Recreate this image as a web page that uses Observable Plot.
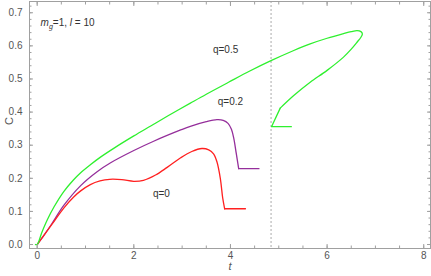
<!DOCTYPE html>
<html><head><meta charset="utf-8">
<script src="https://cdn.jsdelivr.net/npm/d3@7"></script>
<script src="https://cdn.jsdelivr.net/npm/@observablehq/plot@0.6"></script>
<style>body{margin:0;background:#fff} svg{display:block}</style>
</head><body><div id="chart"></div>
<script>
// q = 0.5 (green) — parametric path, drawn in data order
const tGreen = [-0.035,0,0.1,0.21,0.35,0.55,0.75,0.9,1.1,1.31,1.6,2.0,2.35,2.7,3.17,3.5,3.96,4.4,4.85,5.31,5.65,6.0,6.34,6.5,6.62,6.7,6.73,6.7,6.62,6.5,6.34,6.0,5.65,5.31,5.03,4.85,5.26];
const cGreen = [0,0,0.038,0.075,0.114,0.16,0.195,0.217,0.241,0.264,0.292,0.328,0.358,0.388,0.427,0.454,0.49,0.524,0.556,0.586,0.606,0.623,0.637,0.643,0.646,0.643,0.636,0.626,0.611,0.59,0.566,0.526,0.49,0.45,0.412,0.356,0.356];
// q = 0.2 (purple)
const tPurple = [0,0.15,0.3,0.55,0.9,1.24,1.52,2.0,2.41,2.97,3.17,3.5,3.72,3.85,3.95,4.02,4.07,4.12,4.17,4.59];
const cPurple = [0,0.03,0.062,0.118,0.178,0.22,0.247,0.284,0.312,0.346,0.357,0.371,0.377,0.375,0.366,0.348,0.32,0.275,0.229,0.229];
// q = 0 (red)
const tRed = [0,0.15,0.3,0.55,0.75,0.9,1.1,1.3,1.5,1.75,2.0,2.2,2.45,2.69,2.97,3.2,3.41,3.55,3.65,3.72,3.79,3.84,3.88,4.31];
const cRed = [0,0.03,0.06,0.11,0.143,0.162,0.181,0.192,0.197,0.196,0.191,0.194,0.21,0.233,0.262,0.281,0.29,0.286,0.274,0.25,0.2,0.14,0.108,0.108];

const tDashed = [4.84];
const labelText = ["q=0.5","q=0.2","q=0"];
const labelT = [3.9,4.0,2.57];
const labelC = [0.589,0.43,0.153];
const xMajor = [0,2,4,6,8];
const xMinor = [0,0.5,1,1.5,2,2.5,3,3.5,4,4.5,5,5.5,6,6.5,7,7.5,8];
const yMajor = [0,0.1,0.2,0.3,0.4,0.5,0.6,0.7];
const yMinor = [0,0.02,0.04,0.06,0.08,0.1,0.12,0.14,0.16,0.18,0.2,0.22,0.24,0.26,0.28,0.3,0.32,0.34,0.36,0.38,0.4,0.42,0.44,0.46,0.48,0.5,0.52,0.54,0.56,0.58,0.6,0.62,0.64,0.66,0.68,0.7,0.72];

const toRows = (ts, cs) => ts.map((t, i) => ({t, c: cs[i]}));
const green = toRows(tGreen, cGreen);
const purple = toRows(tPurple, cPurple);
const red = toRows(tRed, cRed);
const labels = labelText.map((s, i) => ({s, t: labelT[i], c: labelC[i]}));

// smooth part drawn with a spline; the sharp-cornered tail drawn straight
const split = (rows, k) => [rows.slice(0, k + 1), rows.slice(k)];
const [greenSmooth, greenTail] = split(green, green.length - 3);
const [purpleSmooth, purpleTail] = split(purple, purple.length - 2);
const [redSmooth, redTail] = split(red, red.length - 2);

const frameCol = "#a0a0a0";
const tickTextCol = "#555";
const blank = () => "";
const cGreenCol = "#2ef02e", cPurpleCol = "#952f9b", cRedCol = "#ff2020";

const chart = Plot.plot({
  width: 431, height: 276,
  marginLeft: 29, marginRight: 1, marginTop: 1, marginBottom: 28,
  style: {fontFamily: "'Liberation Sans', Arial, sans-serif", fontSize: "10px", background: "#fff"},
  x: {domain: [-0.159, 8.14], label: null},
  y: {domain: [-0.012, 0.734], label: null},
  marks: [
    Plot.ruleX(tDashed, {stroke: "#aaa", strokeDasharray: "2,2", strokeWidth: 1}),
    Plot.line(purpleSmooth, {x: "t", y: "c", stroke: cPurpleCol, strokeWidth: 1.3, curve: "catmull-rom"}),
    Plot.line(purpleTail, {x: "t", y: "c", stroke: cPurpleCol, strokeWidth: 1.3}),
    Plot.line(redSmooth, {x: "t", y: "c", stroke: cRedCol, strokeWidth: 1.3, curve: "catmull-rom"}),
    Plot.line(redTail, {x: "t", y: "c", stroke: cRedCol, strokeWidth: 1.3}),
    Plot.line(greenSmooth, {x: "t", y: "c", stroke: cGreenCol, strokeWidth: 1.3, curve: "catmull-rom"}),
    Plot.line(greenTail, {x: "t", y: "c", stroke: cGreenCol, strokeWidth: 1.3}),
    Plot.frame({stroke: frameCol}),
    Plot.axisX(xMajor, {anchor: "bottom", tickSize: -4, tickPadding: 7, stroke: frameCol, color: tickTextCol, tickFormat: d => String(d), label: null}),
    Plot.axisX(xMinor, {anchor: "bottom", tickSize: -2.5, stroke: frameCol, tickFormat: blank, label: null}),
    Plot.axisX(xMajor, {anchor: "top", tickSize: -4, stroke: frameCol, tickFormat: blank, label: null}),
    Plot.axisX(xMinor, {anchor: "top", tickSize: -2.5, stroke: frameCol, tickFormat: blank, label: null}),
    Plot.axisY(yMajor, {anchor: "left", tickSize: -4, tickPadding: 11, stroke: frameCol, color: tickTextCol, tickFormat: d3.format(".1f"), label: null}),
    Plot.axisY(yMinor, {anchor: "left", tickSize: -2.5, stroke: frameCol, tickFormat: blank, label: null}),
    Plot.axisY(yMajor, {anchor: "right", tickSize: -4, stroke: frameCol, tickFormat: blank, label: null}),
    Plot.axisY(yMinor, {anchor: "right", tickSize: -2.5, stroke: frameCol, tickFormat: blank, label: null}),
    Plot.text(labels, {x: "t", y: "c", text: "s", fill: "#333", fontSize: 10}),
    Plot.text(["MGLABEL"], {x: 0.07, y: 0.669, text: d => d, textAnchor: "start", fill: "#333", fontSize: 10}),
    Plot.text(["C"], {frameAnchor: "left", dx: -20, rotate: -90, fill: "#555", fontSize: 11}),
    Plot.text(["t"], {frameAnchor: "bottom", dy: 21, fill: "#555", fontSize: 11, fontStyle: "italic"})
  ]
});
document.getElementById("chart").appendChild(chart);

// rich text for the parameter annotation (italic m with subscript g, italic l)
d3.select(chart).selectAll("text").filter(function() { return this.textContent === "MGLABEL"; })
  .each(function() {
    const el = d3.select(this);
    el.text(null);
    el.append("tspan").attr("font-style", "italic").text("m");
    el.append("tspan").attr("font-style", "italic").attr("font-size", "7px").attr("dy", "3").text("g");
    el.append("tspan").attr("dy", "-3").text("=1, ");
    el.append("tspan").attr("font-style", "italic").text("l");
    el.append("tspan").text(" = 10");
  });
</script>
</body></html>
